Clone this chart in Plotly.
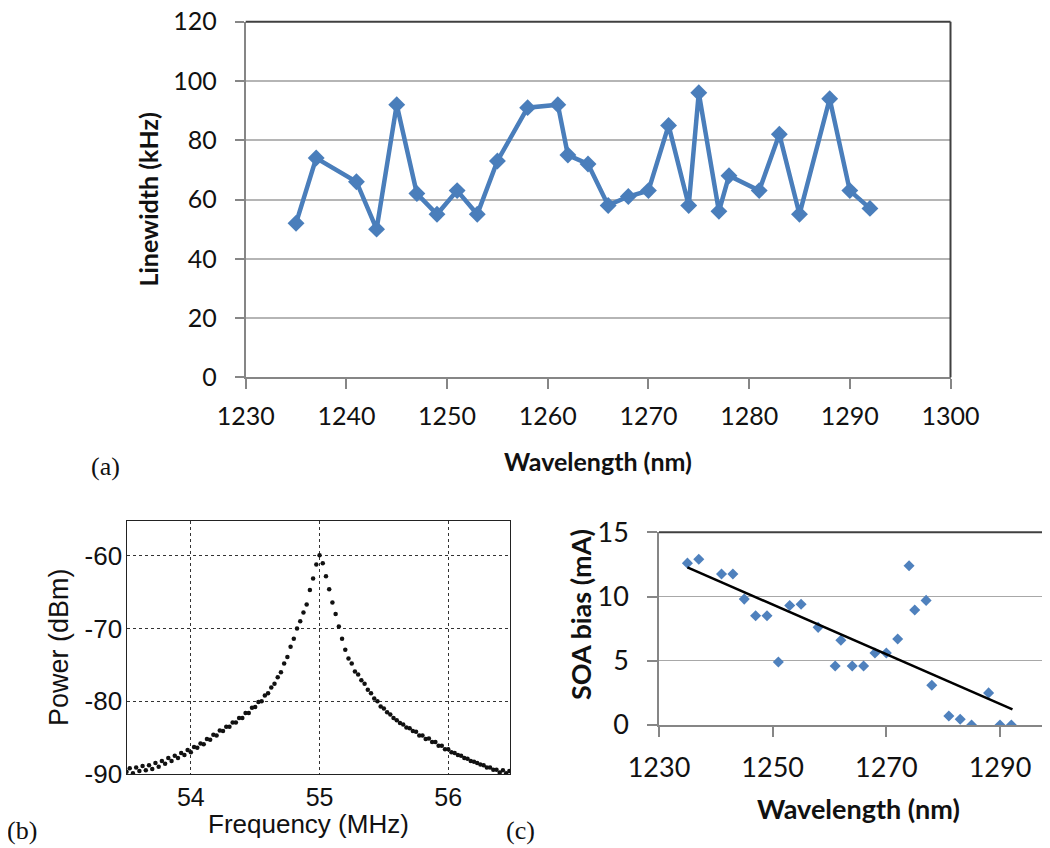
import plotly.graph_objects as go

# ---------------- data ----------------
# (a) linewidth vs wavelength
wl_a = [1235, 1237, 1241, 1243, 1245, 1247, 1249, 1251, 1253, 1255, 1258, 1261, 1262, 1264,
        1266, 1268, 1270, 1272, 1274, 1275, 1277, 1278, 1281, 1283, 1285, 1288, 1290, 1292]
linewidth_khz = [52, 74, 66, 50, 92, 62, 55, 63, 55, 73, 91, 92, 75, 72,
                 58, 61, 63, 85, 58, 96, 56, 68, 63, 82, 55, 94, 63, 57]

# (b) RF beat spectrum
freq_mhz = [53.500, 53.525, 53.550, 53.575, 53.600, 53.625, 53.650, 53.675, 53.700, 53.725,
            53.750, 53.775, 53.800, 53.825, 53.850, 53.875, 53.900, 53.925, 53.950, 53.975,
            54.000, 54.025, 54.050, 54.075, 54.100, 54.125, 54.150, 54.175, 54.200, 54.225,
            54.250, 54.275, 54.300, 54.325, 54.350, 54.375, 54.400, 54.425, 54.450, 54.475,
            54.500, 54.525, 54.550, 54.575, 54.600, 54.625, 54.650, 54.675, 54.700, 54.725,
            54.750, 54.775, 54.800, 54.825, 54.850, 54.875, 54.900, 54.925, 54.950, 54.975,
            55.000, 55.025, 55.050, 55.075, 55.100, 55.125, 55.150, 55.175, 55.200, 55.225,
            55.250, 55.275, 55.300, 55.325, 55.350, 55.375, 55.400, 55.425, 55.450, 55.475,
            55.500, 55.525, 55.550, 55.575, 55.600, 55.625, 55.650, 55.675, 55.700, 55.725,
            55.750, 55.775, 55.800, 55.825, 55.850, 55.875, 55.900, 55.925, 55.950, 55.975,
            56.000, 56.025, 56.050, 56.075, 56.100, 56.125, 56.150, 56.175, 56.200, 56.225,
            56.250, 56.275, 56.300, 56.325, 56.350, 56.375, 56.400, 56.425, 56.450, 56.475]
power_dbm = [-89.7, -89.2, -89.9, -89.1, -89.6, -88.9, -89.5, -88.8, -89.3, -88.5,
             -89.0, -88.2, -88.6, -87.8, -88.2, -87.5, -87.8, -87.1, -87.4, -86.7,
             -87.0, -86.3, -86.4, -85.8, -85.9, -85.2, -85.3, -84.6, -84.7, -84.0,
             -84.1, -83.5, -83.5, -82.9, -82.9, -82.3, -82.3, -81.6, -81.6, -80.9,
             -80.8, -80.1, -80.0, -79.2, -78.9, -78.1, -77.6, -76.7, -76.0, -74.8,
             -73.9, -72.5, -71.4, -70.0, -69.0, -67.8, -66.7, -64.7, -63.1, -61.2,
             -59.9, -61.0, -62.8, -64.6, -66.4, -68.0, -69.7, -71.4, -72.9, -74.1,
             -74.8, -75.9, -76.3, -77.1, -77.6, -78.4, -78.9, -79.6, -80.0, -80.7,
             -81.0, -81.5, -81.8, -82.3, -82.6, -83.0, -83.2, -83.6, -83.7, -84.1,
             -84.2, -84.7, -84.7, -85.2, -85.1, -85.6, -85.6, -86.1, -86.1, -86.6,
             -86.6, -87.0, -87.1, -87.4, -87.5, -87.8, -87.9, -88.2, -88.3, -88.5,
             -88.7, -88.8, -89.1, -89.1, -89.4, -89.4, -89.8, -89.5, -89.9, -89.6]

# (c) SOA bias vs wavelength
wl_c = [1235, 1237, 1241, 1243, 1245, 1247, 1249, 1251, 1253, 1255, 1258, 1261, 1262, 1264,
        1266, 1268, 1270, 1272, 1274, 1275, 1277, 1278, 1281, 1283, 1285, 1288, 1290, 1292]
soa_bias_ma = [12.6, 12.9, 11.75, 11.75, 9.8, 8.5, 8.5, 4.9, 9.3, 9.4, 7.6, 4.6, 6.6, 4.6,
               4.6, 5.6, 5.6, 6.7, 12.4, 8.95, 9.7, 3.1, 0.7, 0.45, 0.0, 2.5, 0.0, 0.0]
trend_x = [1235, 1292.2]
trend_y = [12.27, 1.22]

# tick labels
a_xticks = [1230, 1240, 1250, 1260, 1270, 1280, 1290, 1300]
a_yticks = [0, 20, 40, 60, 80, 100, 120]
b_xticks = [54, 55, 56]
b_yticks = [-90, -80, -70, -60]
b_yticktext = ["-90", "-80", "-70", "-60"]
c_xticks = [1230, 1250, 1270, 1290]
c_yticks = [0, 5, 10, 15]

# ---------------- figure ----------------
# the page body adds an 8px margin, so the figure is 8px smaller and shifted
OFF = 8
W, H = 1050 - OFF, 848 - OFF
def px(x):
    return (x - OFF) / W
def py(y):
    return 1 - (y - OFF) / H

CAL = "Lato, 'Open Sans', sans-serif"
ARIAL = "'Liberation Sans', Arial, sans-serif"
TIMES = "'Liberation Serif', 'Times New Roman', serif"
BLUE = "#4A7EBB"

fig = go.Figure()

fig.add_trace(go.Scatter(x=wl_a, y=linewidth_khz, mode="lines+markers",
                         line=dict(color=BLUE, width=4.5),
                         marker=dict(symbol="diamond", size=13, color=BLUE),
                         xaxis="x", yaxis="y", showlegend=False))

fig.add_trace(go.Scatter(x=freq_mhz, y=power_dbm, mode="markers",
                         marker=dict(symbol="circle", size=4.5, color="#111111"),
                         xaxis="x2", yaxis="y2", showlegend=False))

fig.add_trace(go.Scatter(x=wl_c, y=soa_bias_ma, mode="markers",
                         marker=dict(symbol="diamond", size=8.5, color="#4F81BD"),
                         xaxis="x3", yaxis="y3", showlegend=False))
fig.add_trace(go.Scatter(x=trend_x, y=trend_y, mode="lines",
                         line=dict(color="black", width=2.5),
                         xaxis="x3", yaxis="y3", showlegend=False))

AX_GRAY = "#868686"

fig.update_layout(
    width=W, height=H, autosize=False,
    margin=dict(l=0, r=0, t=0, b=0, pad=0),
    paper_bgcolor="white", plot_bgcolor="white",
    # (a)
    xaxis=dict(domain=[px(245.7), px(950.5)], anchor="y", range=[1230, 1300],
               automargin=False, ticklabeloverflow="allow",
               tickvals=a_xticks, showgrid=False, zeroline=False,
               showline=True, linecolor=AX_GRAY, linewidth=2,
               ticks="outside", ticklen=10, tickcolor=AX_GRAY, tickwidth=2,
               ticklabelstandoff=6,
               tickfont=dict(family=CAL, size=25, color="#111111")),
    yaxis=dict(domain=[py(377.3), py(21.7)], anchor="x", range=[0, 120],
               automargin=False, ticklabeloverflow="allow",
               tickvals=a_yticks, showgrid=True, gridcolor="#B5B5B5", gridwidth=2,
               zeroline=False, showline=True, linecolor=AX_GRAY, linewidth=2,
               ticks="outside", ticklen=9, tickcolor=AX_GRAY, tickwidth=2,
               ticklabelstandoff=13,
               tickfont=dict(family=CAL, size=25, color="#111111")),
    # (b)
    xaxis2=dict(domain=[px(126.5), px(510)], anchor="y2", range=[53.5, 56.48],
                automargin=False, ticklabeloverflow="allow",
                tickvals=b_xticks, showgrid=True, gridcolor="#333333", gridwidth=1.2,
                griddash="dot", zeroline=False, showline=True, mirror=True,
                linecolor="#222222", linewidth=1.3, ticks="",
                ticklabelstandoff=1,
                tickfont=dict(family=ARIAL, size=25, color="#111111")),
    yaxis2=dict(domain=[py(774), py(521)], anchor="x2", range=[-90, -55.2],
                automargin=False, ticklabeloverflow="allow",
                tickvals=b_yticks, ticktext=b_yticktext, showgrid=True,
                gridcolor="#333333", gridwidth=1.2, griddash="dot", zeroline=False,
                showline=True, mirror=True, linecolor="#222222", linewidth=1.3,
                ticks="", ticklabelstandoff=-2,
                tickfont=dict(family=ARIAL, size=26, color="#111111")),
    # (c)
    xaxis3=dict(domain=[px(659), 1.0], anchor="y3", range=[1230, 1298.8],
                automargin=False, ticklabeloverflow="allow",
                tickvals=c_xticks, showgrid=False, zeroline=False,
                showline=True, linecolor=AX_GRAY, linewidth=1.5,
                ticks="outside", ticklen=10, tickcolor=AX_GRAY, tickwidth=1.5,
                ticklabelstandoff=8,
                tickfont=dict(family=CAL, size=27, color="#111111")),
    yaxis3=dict(domain=[py(725), py(532.3)], anchor="x3", range=[0, 15],
                automargin=False, ticklabeloverflow="allow",
                tickvals=c_yticks, showgrid=True, gridcolor="#A8A8A8", gridwidth=1.2,
                zeroline=False, showline=True, linecolor=AX_GRAY, linewidth=1.5,
                ticks="outside", ticklen=10, tickcolor=AX_GRAY, tickwidth=1.5,
                ticklabelstandoff=13,
                tickfont=dict(family=CAL, size=27, color="#111111")),
)

# dark plot-area borders (top/right of (a), top of (c))
fig.add_shape(type="line", xref="x domain", yref="y domain", x0=0, x1=1, y0=1, y1=1,
              line=dict(color="#404040", width=2))
fig.add_shape(type="line", xref="x domain", yref="y domain", x0=1, x1=1, y0=0, y1=1,
              line=dict(color="#404040", width=2))
fig.add_shape(type="line", xref="x3 domain", yref="y3 domain", x0=0, x1=1, y0=1, y1=1,
              line=dict(color="#404040", width=2))

def label(text, x, y, family, size, angle=0):
    return dict(text=text, x=px(x), y=py(y), xref="paper", yref="paper",
                xanchor="center", yanchor="middle", showarrow=False, textangle=angle,
                font=dict(family=family, size=size, color="#111111"))

ann = [
    label("<b>Wavelength (nm)</b>", 598, 461, CAL, 25),
    label("<b>Linewidth (kHz)</b>", 147.5, 200, CAL, 25, -90),
    label("Frequency (MHz)", 308, 824, ARIAL, 26),
    label("Power (dBm)", 59, 647, ARIAL, 27, -90),
    label("<b>Wavelength (nm)</b>", 858, 808, CAL, 27),
    label("<b>SOA bias (mA)</b>", 580, 615, CAL, 27, -90),
    label("(a)", 105, 467, TIMES, 26),
    label("(b)", 22, 830, TIMES, 26),
    label("(c)", 520, 830, TIMES, 26),
]
fig.update_layout(annotations=ann)

fig.write_html("out.html")
